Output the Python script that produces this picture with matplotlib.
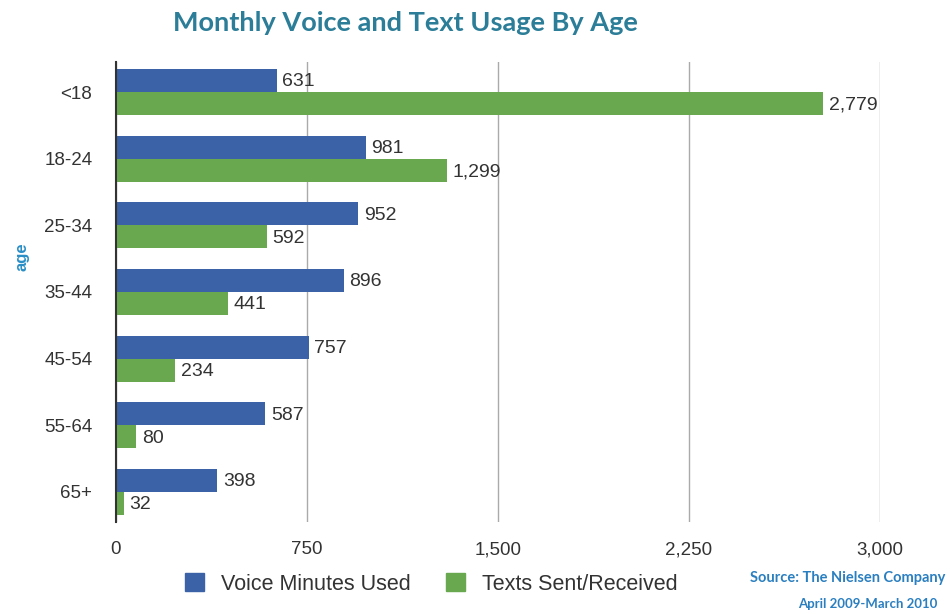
import numpy as np
import matplotlib
matplotlib.use("Agg")
from matplotlib import pyplot as plt
from matplotlib.patches import Patch

# data
ages = ['<18', '18-24', '25-34', '35-44', '45-54', '55-64', '65+']
voice = [631, 981, 952, 896, 757, 587, 398]
texts = [2779, 1299, 592, 441, 234, 80, 32]
xticks = [0, 750, 1500, 2250, 3000]

blue = '#3b62a6'
green = '#6aa84f'
teal = '#2b7d98'
label_col = '#333333'

plt.rcParams['font.family'] = ['Liberation Sans', 'DejaVu Sans']

fig = plt.figure(figsize=(9.5, 6.14), dpi=100)
ax = fig.add_axes([0.122, 0.150, 0.804, 0.749])

y = np.arange(len(ages))
h = 0.345
b1 = ax.barh(y - h / 2, voice, height=h, color=blue, zorder=3)
b2 = ax.barh(y + h / 2, texts, height=h, color=green, zorder=3)

for bars in (b1, b2):
    for bar in bars:
        w = bar.get_width()
        ax.annotate(f'{w:,.0f}', (w, bar.get_y() + bar.get_height() / 2),
                    xytext=(4, -1), textcoords='offset points',
                    ha='left', va='center', fontsize=14, color=label_col)

ax.set_xlim(0, 3000)
ax.set_ylim(len(ages) - 0.55, -0.45)
ax.set_yticks(y)
ax.set_yticklabels(ages)
ax.set_xticks(xticks)
ax.set_xticklabels([f'{t:,}' for t in xticks])
ax.tick_params(axis='both', length=0, labelsize=13.5, colors=label_col)
ax.tick_params(axis='x', pad=14)
ax.tick_params(axis='y', pad=17)

ax.grid(axis='x', color='#aaaaaa', linewidth=1, zorder=0)
for s in ['top', 'right', 'bottom']:
    ax.spines[s].set_visible(False)
ax.spines['left'].set_color('#333333')
ax.spines['left'].set_linewidth(1.5)
ax.spines['left'].set_zorder(4)

ax.set_ylabel('age', color='#2a8fc7', fontsize=12, weight='bold')
ax.yaxis.set_label_coords(-0.113, 0.576)

fig.text(0.427, 0.963, 'Monthly Voice and Text Usage By Age', ha='center',
         va='center', fontsize=19.5, color=teal, family='Lato', weight='bold')

handles = [Patch(color=blue, label='Voice Minutes Used'),
           Patch(color=green, label='Texts Sent/Received')]
fig.legend(handles=handles, loc='center', bbox_to_anchor=(0.454, 0.049),
           ncol=2, frameon=False, fontsize=15.5, handlelength=0.9,
           handleheight=0.9, columnspacing=1.6, handletextpad=0.8,
           labelcolor=label_col)

fig.text(0.995, 0.058, 'Source: The Nielsen Company', ha='right', va='center',
         fontsize=10.5, color='#2a7fc0', family='Lato', weight='bold')
fig.text(0.987, 0.017, 'April 2009-March 2010', ha='right', va='center',
         fontsize=9.5, color='#2a7fc0', family='Lato', weight='bold')

fig.savefig('out.png', dpi=100)
